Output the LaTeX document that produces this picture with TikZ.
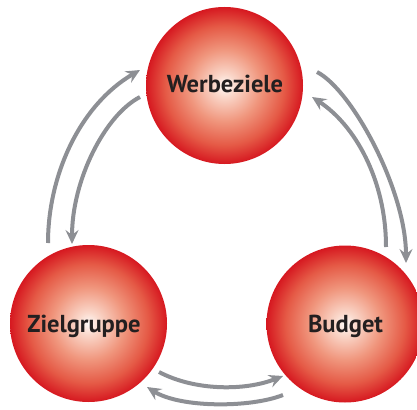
\documentclass[tikz,border=0pt]{standalone}
\usepackage{fontspec}
\setmainfont{PT Sans}
\usetikzlibrary{arrows.meta}
\definecolor{arrowgray}{RGB}{141,143,148}
\definecolor{txt}{RGB}{35,31,32}
\definecolor{bc0}{RGB}{255,250,248}
\definecolor{bc1}{RGB}{250,216,203}
\definecolor{bc2}{RGB}{240,150,125}
\definecolor{bc3}{RGB}{229,90,70}
\definecolor{bc4}{RGB}{214,24,32}
\pgfdeclareradialshading{redball}{\pgfpoint{0bp}{0bp}}{color(0bp)=(bc0); color(3.5bp)=(bc1); color(11.5bp)=(bc2); color(19bp)=(bc3); color(25bp)=(bc4); color(50bp)=(bc4)}
\begin{document}
\begin{tikzpicture}[x=1pt,y=-1pt,
  ball/.style={circle, minimum size=157pt, inner sep=0pt, shading=redball},
  lbl/.style={font=\bfseries\fontsize{24.5}{28}\selectfont, text=txt, anchor=base, inner sep=0pt},
  flow/.style={draw=arrowgray, line width=4pt, -{Stealth[length=14pt,width=13pt,inset=5pt]}}]
\useasboundingbox (0,0) rectangle (417,409);
\clip (0,0) rectangle (417,409);
% circles
\node[ball] (wz) at (224.5,85.5) {};
\node[ball] (zg) at (88.5,323.5) {};
\node[ball] (bd) at (345,324) {};
% labels
\node[lbl] (twz) at (225,93) {Werbeziele};
\node[lbl] (tzg) at (84,332) {Zielgruppe};
\node[lbl] (tbd) at (345.5,332) {Budget};
% arrow end points
\coordinate (lo1) at (48,243);  \coordinate (lo2) at (140,70);
\coordinate (li1) at (140,97);  \coordinate (li2) at (72,244);
\coordinate (ro1) at (317,72);  \coordinate (ro2) at (406,263);
\coordinate (ri1) at (386,247); \coordinate (ri2) at (312,97);
\coordinate (bu1) at (159,372); \coordinate (bu2) at (283,376);
\coordinate (bl1) at (283,395); \coordinate (bl2) at (147,387);
% arrows
\draw[flow] (lo1) .. controls (48,175) and (80,105) .. (lo2);
\draw[flow] (li1) .. controls (105,115) and (72,180) .. (li2);
\draw[flow] (ro1) .. controls (352,90) and (406,190) .. (ro2);
\draw[flow] (ri1) .. controls (386,180) and (355,125) .. (ri2);
\draw[flow] (bu1) .. controls (195,391) and (245,391) .. (bu2);
\draw[flow] (bl1) .. controls (250,408) and (180,408) .. (bl2);
\end{tikzpicture}
\end{document}
